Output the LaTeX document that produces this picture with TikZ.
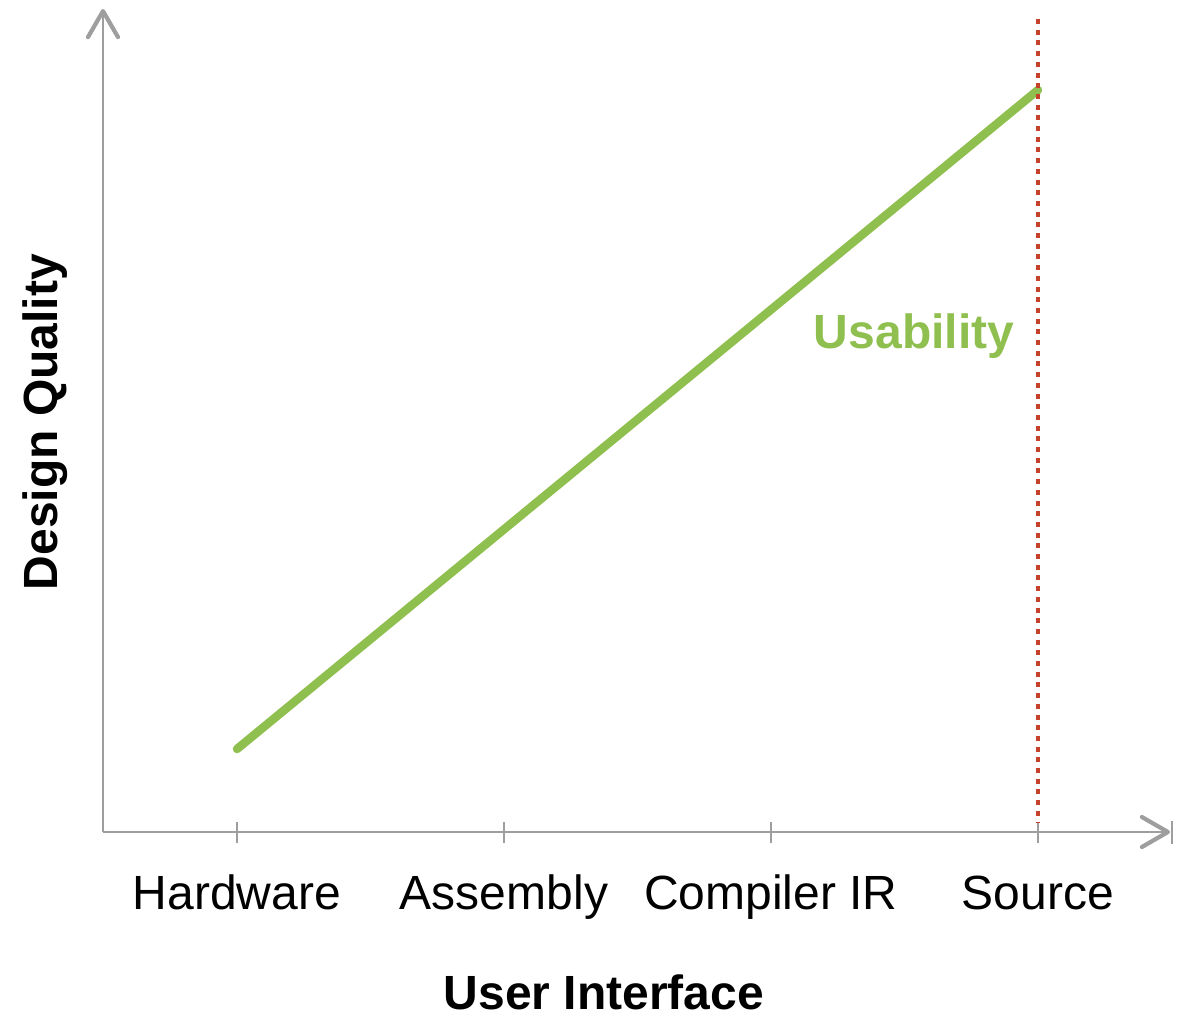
\documentclass[tikz,border=0pt]{standalone}
\usepackage{fontspec}
\setmainfont{Liberation Sans}
\usetikzlibrary{arrows.meta}
\definecolor{axisgray}{RGB}{158,158,158}
\definecolor{usegreen}{RGB}{143,191,78}
\definecolor{limitred}{RGB}{196,66,42}
\tikzset{
  axisline/.style={draw=axisgray, line width=2.6pt},
  axistip/.style={-{Straight Barb[length=26pt,width=30pt,line width=4.2pt,round]}},
  tickmark/.style={draw=axisgray, line width=2.8pt},
  catlabel/.style={font=\fontsize{48}{56}\selectfont, text=black, inner sep=0pt, anchor=base},
  axislabel/.style={font=\fontsize{48}{56}\selectfont\bfseries, text=black, inner sep=0pt},
}
\begin{document}
\begin{tikzpicture}[x=1pt,y=-1pt]
  \path[use as bounding box] (0,0) rectangle (1195,1018);

  % axes
  \coordinate (origin) at (103,832);
  \coordinate (ytop) at (103,9);
  \coordinate (xend) at (1170,832);
  \draw[axisline, axistip] (origin) -- (ytop);
  \draw[axisline, axistip] (origin) -- (xend);
  \draw[tickmark] (1172,821) -- (1172,844);

  % tick marks and category labels
  \foreach \x/\name/\txt in {237/hw/Hardware, 504/asm/Assembly, 771/ir/Compiler IR, 1038/src/Source}{
    \coordinate (t\name) at (\x,832);
    \draw[tickmark] ([yshift=-10.5pt]t\name) -- ([yshift=10.5pt]t\name);
    \node[catlabel] (l\name) at (\x,909) {\txt};
  }

  % axis titles
  \node[axislabel, anchor=base, text depth=0pt] (xtitle) at (604,1009) {User Interface};
  \node[axislabel, rotate=90] (ytitle) at (45,422) {Design Quality};

  % usability trend
  \coordinate (ustart) at (237,749);
  \coordinate (uend) at (1038,90);
  \draw[usegreen, line width=8.5pt, line cap=round] (ustart) -- (uend);
  \node[font=\fontsize{48}{56}\selectfont\bfseries, text=usegreen, inner sep=0pt, anchor=base] (usab) at (914,348) {Usability};

  % limit at source level
  \coordinate (ltop) at (1038,19);
  \coordinate (lbot) at (1038,822);
  \draw[limitred, line width=4.4pt, dash pattern=on 5pt off 5.7pt] (ltop) -- (lbot);
\end{tikzpicture}
\end{document}
